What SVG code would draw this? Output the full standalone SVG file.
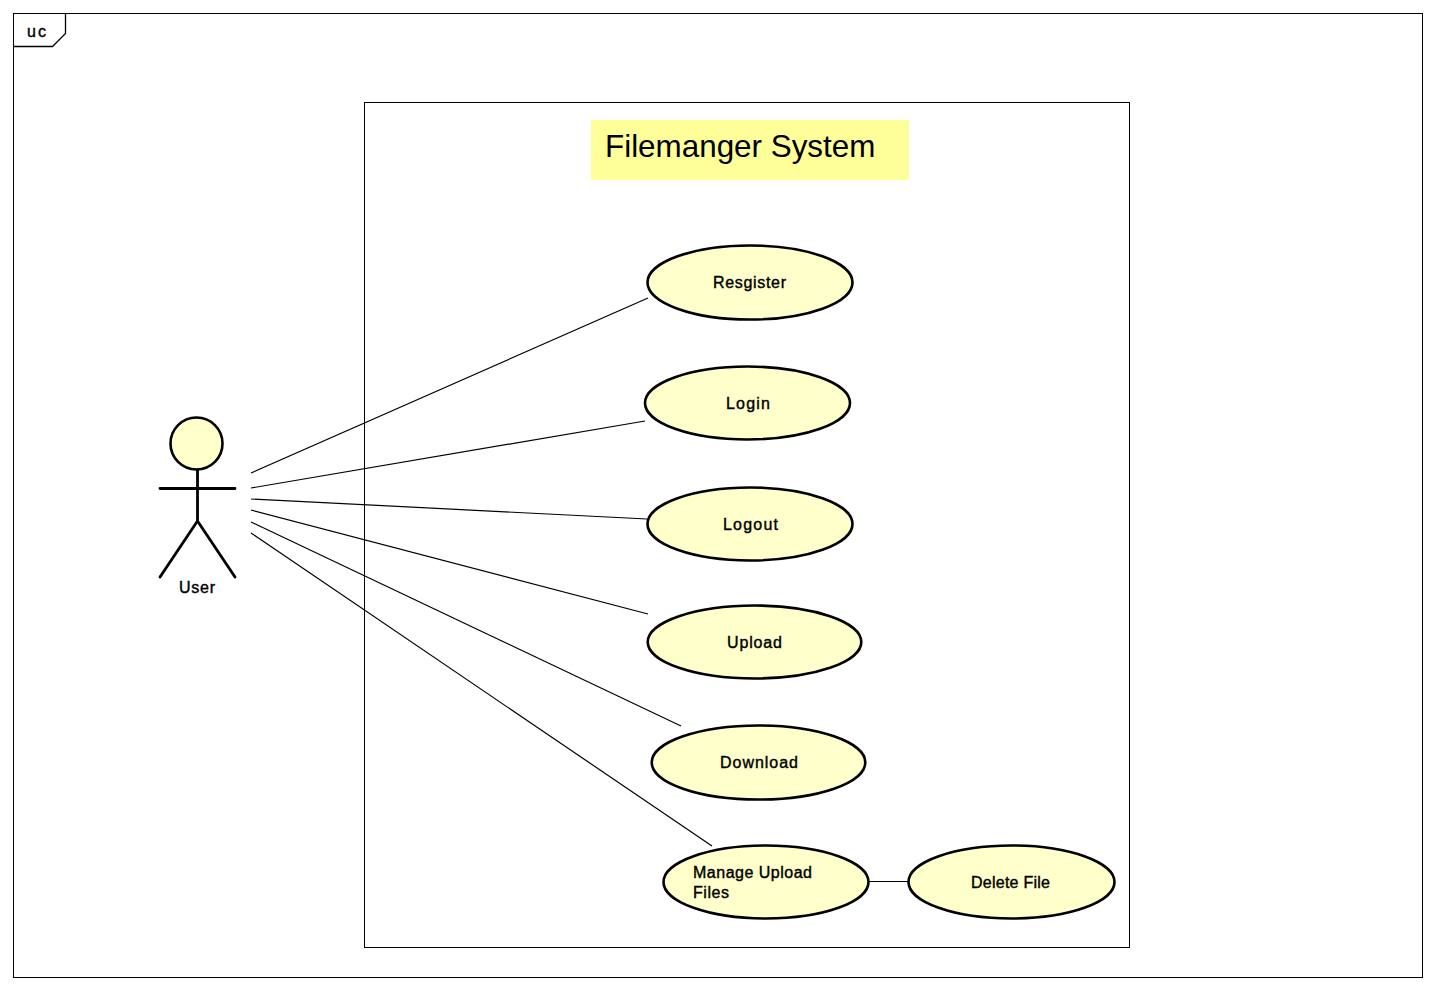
<svg xmlns="http://www.w3.org/2000/svg" width="1436" height="990" viewBox="0 0 1436 990">
<style>
text{font-family:"Liberation Sans",Arial,sans-serif;font-size:16px;fill:#000;stroke:#000;stroke-width:.4px}
.uc{fill:#ffffcc;stroke:#000;stroke-width:2.6}
.c{stroke:#000;stroke-width:1.2;fill:none}
.f{fill:none;stroke:#000;stroke-width:1}
.a{fill:none;stroke:#000;stroke-width:2.8;stroke-linecap:round}
</style>
<rect width="1436" height="990" fill="#fff"/>
<g id="frame"><rect class="f" x="13.500" y="13.500" width="1409" height="964"/><path class="f" style="stroke-width:1.300" d="M13.500 46.500H52.500L65.500 33.500V13.500"/><text x="27" y="37" textLength="19">uc</text></g>
<g id="system"><rect class="f" x="364.500" y="102.500" width="765" height="845"/></g>
<g id="note"><rect x="591" y="120" width="318" height="60" fill="#ffff99"/><text x="605" y="157" style="font-size:31.400px;stroke-width:0">Filemanger System</text></g>
<g id="connectors">
<path class="c" d="M251 473L648 298"/>
<path class="c" d="M251 488L645 421"/>
<path class="c" d="M251 499L647 519"/>
<path class="c" d="M251 510L648 614"/>
<path class="c" d="M251 522L681 726"/>
<path class="c" d="M251 533L712 846"/>
<path class="c" d="M869 881.500H908"/>
</g>
<g id="actor-user"><circle class="uc" cx="196.500" cy="443.500" r="26"/><path class="a" d="M197.500 470V521M160 488.500H235M160 577L197.500 521L235 577"/><text x="179" y="593" textLength="36">User</text></g>
<g id="uc-register"><ellipse class="uc" cx="750" cy="282.500" rx="102.500" ry="37"/><text x="713" y="288" textLength="73">Resgister</text></g>
<g id="uc-login"><ellipse class="uc" cx="747.500" cy="403" rx="102.500" ry="36.500"/><text x="726" y="409" textLength="44">Login</text></g>
<g id="uc-logout"><ellipse class="uc" cx="750" cy="524" rx="102.500" ry="36.500"/><text x="723" y="530" textLength="55">Logout</text></g>
<g id="uc-upload"><ellipse class="uc" cx="754.500" cy="642" rx="106.800" ry="36.500"/><text x="727" y="648" textLength="55">Upload</text></g>
<g id="uc-download"><ellipse class="uc" cx="758.500" cy="762.500" rx="106.800" ry="37"/><text x="720" y="768" textLength="78">Download</text></g>
<g id="uc-manage"><ellipse class="uc" cx="766" cy="882" rx="102.500" ry="36.500"/><text x="693" y="878" textLength="119">Manage Upload</text><text x="693" y="898" textLength="36">Files</text></g>
<g id="uc-delete"><ellipse class="uc" cx="1011.500" cy="882" rx="103" ry="36.500"/><text x="971" y="888" textLength="79">Delete File</text></g>
</svg>
